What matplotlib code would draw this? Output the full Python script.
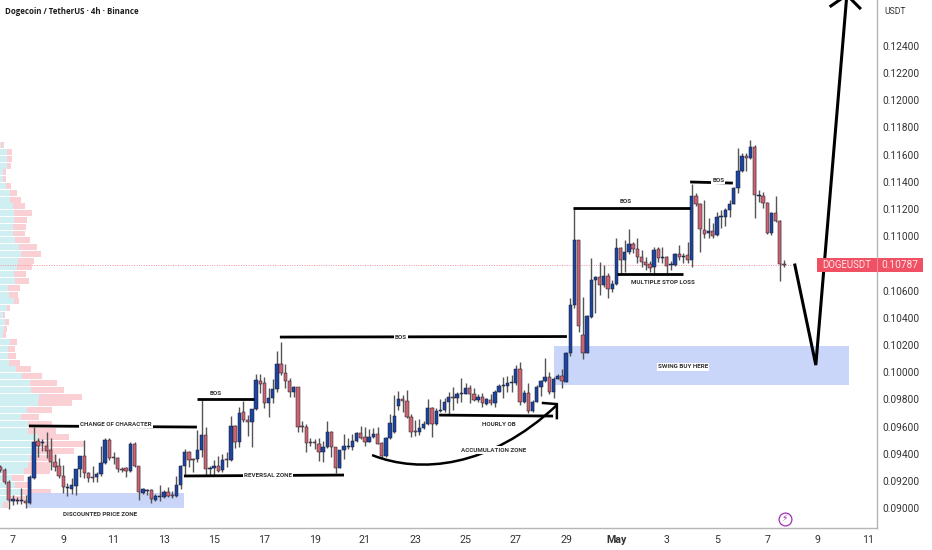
import matplotlib
matplotlib.use("Agg")
import matplotlib.pyplot as plt
from matplotlib.patches import Rectangle, PathPatch
from matplotlib.path import Path

UNIT = 1e-5  # all price lists below are in 1e-5 USDT

first_bar = -3
body_top = [
 9302,9280,9191,9066,9059,9059,9052,9228,9486,9493,
 9486,9456,9427,9339,9309,9236,9155,9169,9287,9383,
 9383,9258,9228,9250,9331,9500,9500,9375,9368,9287,
 9294,9471,9471,9309,9140,9133,9133,9088,9088,9118,
 9118,9096,9169,9309,9412,9412,9361,9427,9537,9537,
 9294,9309,9309,9353,9361,9603,9603,9699,9706,9648,
 9729,9942,9935,9920,9809,9876,10060,10060,9993,9935,
 9890,9890,9603,9596,9486,9486,9471,9449,9559,9559,
 9449,9427,9456,9456,9493,9552,9552,9523,9523,9545,
 9545,9478,9515,9626,9677,9802,9802,9787,9670,9567,
 9589,9618,9736,9736,9714,9721,9780,9817,9817,9839,
 9846,9883,9883,9839,9817,9817,9802,9795,9854,9898,
 9905,9920,9927,10023,10023,9846,9846,9780,9890,9935,
 9964,9964,9949,9971,9971,10141,10494,10972,10972,10273,
 10413,10678,10700,10700,10707,10707,10648,10913,10913,10884,
 10943,10943,10906,10847,10810,10796,10898,10906,10847,10847,
 10796,10869,10869,10854,10862,11296,11296,11237,11046,11038,
 11038,11141,11149,11193,11237,11355,11480,11590,11590,11656,
 11656,11303,11296,11244,11171,11171,11112,10796]
body_bot = [
 9280,9191,9059,9052,9052,9052,9037,9037,9221,9456,
 9478,9420,9339,9302,9236,9155,9147,9140,9162,9287,
 9258,9221,9221,9228,9250,9331,9368,9368,9287,9280,
 9272,9272,9309,9118,9111,9125,9066,9059,9081,9081,
 9088,9088,9088,9169,9309,9353,9353,9361,9427,9287,
 9287,9294,9272,9280,9353,9353,9486,9486,9648,9633,
 9633,9729,9912,9773,9773,9809,9876,9993,9935,9854,
 9854,9596,9596,9478,9478,9478,9412,9412,9449,9449,
 9294,9294,9427,9449,9449,9493,9515,9486,9486,9523,
 9471,9383,9383,9515,9559,9751,9787,9670,9559,9559,
 9559,9589,9618,9618,9618,9714,9721,9780,9809,9809,
 9839,9839,9839,9795,9795,9773,9765,9773,9773,9854,
 9898,9898,9920,9920,9780,9780,9714,9714,9780,9890,
 9935,9854,9854,9949,9935,9927,10141,10494,10339,10141,
 10141,10405,10678,10641,10641,10611,10611,10648,10825,10825,
 10884,10906,10847,10810,10788,10766,10773,10840,10840,10781,
 10788,10788,10847,10847,10825,10825,11237,11053,11016,11024,
 11002,11009,11141,11141,11193,11237,11355,11480,11575,11575,
 11303,11296,11244,11024,11024,11112,10796,10787]
highs = [
 9316,9294,9206,9096,9081,9147,9096,9243,9596,9515,
 9508,9559,9515,9397,9368,9316,9184,9221,9287,9383,
 9500,9265,9309,9265,9456,9515,9515,9412,9375,9302,
 9302,9486,9486,9309,9147,9140,9140,9103,9169,9133,
 9155,9125,9236,9316,9434,9420,9368,9574,9795,9596,
 9309,9353,9383,9397,9412,9677,9611,9743,9787,9685,
 9729,9986,9986,9964,9883,9949,10155,10222,10060,9957,
 9898,9890,9640,9618,9515,9508,9515,9493,9640,9567,
 9449,9427,9545,9515,9545,9559,9603,9596,9581,9589,
 9596,9486,9523,9692,9831,9861,9831,9868,9692,9648,
 9655,9640,9802,9743,9736,9802,9809,9854,9890,9854,
 9957,9920,9905,9883,9839,9846,9809,9839,9868,9912,
 9964,9971,9979,10052,10074,9868,9920,9795,9905,9942,
 10104,10001,9964,9986,10023,10148,10545,11208,10972,10553,
 10420,10840,10707,10810,10788,10729,10678,10987,10921,10972,
 11053,10957,10987,10898,10847,10818,10921,10921,10921,10854,
 10818,10876,10935,10876,10957,11384,11318,11244,11266,11134,
 11097,11178,11193,11208,11266,11362,11649,11612,11612,11708,
 11671,11340,11325,11252,11178,11296,11119,10825]
lows = [
 9265,9177,8993,9022,9029,9029,9000,9030,9213,9375,
 9420,9368,9280,9272,9221,9111,9089,9103,9096,9228,
 9221,9191,9191,9191,9236,9324,9353,9324,9265,9265,
 9228,9265,9302,9059,9103,9096,9037,9052,9052,9074,
 9081,9074,9081,9140,9243,9302,9265,9339,9375,9243,
 9243,9243,9265,9265,9302,9346,9442,9449,9633,9530,
 9449,9721,9846,9736,9670,9773,9854,9979,9883,9817,
 9817,9559,9559,9412,9456,9434,9346,9339,9442,9375,
 9258,9294,9361,9434,9427,9486,9508,9456,9486,9515,
 9471,9375,9375,9508,9552,9721,9706,9662,9523,9530,
 9537,9581,9611,9523,9611,9706,9706,9692,9721,9773,
 9780,9839,9773,9787,9780,9743,9758,9758,9743,9854,
 9809,9854,9854,9905,9758,9773,9699,9706,9780,9824,
 9927,9839,9809,9949,9883,9927,10118,10472,10295,10096,
 10141,10398,10435,10567,10626,10545,10589,10641,10729,10737,
 10869,10876,10803,10773,10751,10737,10722,10810,10803,10729,
 10751,10781,10825,10803,10803,10773,11222,10884,10987,10987,
 10987,11002,11060,11075,11141,11237,11318,11472,11480,11568,
 11134,11252,11208,11016,11009,11104,10670,10773]
direction = (
 "ddduuuduud" "uddddduuuu" "ddduuudddd" "dudduuduuu" "dduuudduud"
 "uududududd" "uudduuuddd" "udddddduud" "duuuuudduu" "dduuuudddd"
 "uuuduuuudu" "uuddududuu" "uuuududuuu" "uduuduuudd" "uuududuudu"
 "udddddudud" "uudududddu" "duuuuuuudu" "dudduddd"
)

vp_levels = [11670,11620,11570,11520,11470,11420,11370,11320,11270,11220,
             11170,11120,11070,11020,10970,10920,10870,10820,10770,10720,
             10670,10620,10570,10520,10470,10420,10370,10320,10270,10220,
             10170,10120,10070,10020,9970,9920,9870,9820,9770,9720,
             9670,9620,9570,9520,9470,9420,9370,9320,9270,9220,
             9170,9120,9070,9020]
vp_up = [1,7,7,7,3,3,6,10,10,13,14,14,13,13,15,19,21,18,17,14,15,8,9,14,7,3,5,4,3,10,
         8,8,9,16,22,30,31,39,38,27,21,28,28,38,33,33,30,28,24,12,15,22,8,3]
vp_down = [3,5,5,4,3,3,5,7,11,12,18,13,13,12,15,18,20,16,15,12,14,12,9,5,3,2,4,3,3,7,
           7,8,11,15,20,27,33,43,34,25,18,24,28,31,52,41,27,22,26,12,13,29,17,5]

price_ticks = [9000,9200,9400,9600,9800,10000,10200,10400,10600,11000,
               11200,11400,11600,11800,12000,12200,12400]
time_ticks = [0,12,24,36,48,60,72,84,96,108,120,132,144,156,168,180,192,204]
time_labels = ["7","9","11","13","15","17","19","21","23","25","27","29","May","3","5","7","9","11"]
last_price = 10787

BLUE, RED = "#1d459e", "#cb6470"
W, H = 932, 550
plt.rcParams["font.family"] = ["Roboto", "DejaVu Sans"]
fig = plt.figure(figsize=(W/100, H/100), dpi=100, facecolor="white")
rect = [0, (H-527.5)/H, 877/W, 527.5/H]

vp = fig.add_axes(rect, zorder=0)
vp.set_xlim(0, 877); vp.set_ylim(8857*UNIT, 12738*UNIT); vp.axis("off")
lev = [v*UNIT for v in vp_levels]
vp.barh(lev, vp_up, height=0.00044, color="#cfeff3", linewidth=0)
vp.barh(lev, vp_down, left=vp_up, height=0.00044, color="#fbd0d5", linewidth=0)

ax = fig.add_axes(rect, zorder=1)
ax.patch.set_visible(False)
ax.set_xlim(-3.1, 206.2); ax.set_ylim(8857*UNIT, 12738*UNIT)

def zone(x0, x1, y0, y1):
    ax.add_patch(Rectangle((x0, y0*UNIT), x1-x0, (y1-y0)*UNIT, fc="#c6d4fa", ec="none", alpha=0.95, zorder=1))
zone(3.3, 40.8, 9000, 9110)
zone(129.1, 199.5, 9905, 10192)

ax.plot([-3.1, 186], [last_price*UNIT]*2, color="#f4919f", lw=0.7, ls=(0, (1, 1.5)), zorder=1.5)

xs = list(range(first_bar, first_bar+len(body_top)))
ax.vlines(xs, [v*UNIT for v in lows], [v*UNIT for v in highs], color="#555555", lw=1.0, zorder=2)
cols = [BLUE if d == "u" else RED for d in direction]
ax.bar(xs, [(t-b)*UNIT for t, b in zip(body_top, body_bot)], bottom=[b*UNIT for b in body_bot],
       width=0.8, color=cols, edgecolor="#1a1a2a", linewidth=0.35, zorder=3)

def seg(x0, y0, x1, y1, lw=2.0):
    ax.plot([x0, x1], [y0*UNIT, y1*UNIT], color="black", lw=lw, solid_capstyle="butt", zorder=4)

def label(x, y, s, bg=False):
    ax.text(x, y*UNIT, s, ha="center", va="center", fontsize=4.5, fontweight="bold", color="#333333", zorder=5,
            bbox=dict(fc="white", ec="none", pad=0.8) if bg else None)

seg(3.8, 9604, 43.9, 9596); label(24.6, 9618, "CHANGE OF CHARACTER", True)
seg(43.9, 9802, 57.5, 9802); label(48.4, 9846, "BOS")
seg(40.8, 9236, 79, 9243); label(60.9, 9243, "REVERSAL ZONE", True)
seg(63.7, 10258, 132.2, 10262); label(92.6, 10258, "BOS", True)
seg(101.7, 9684, 128.9, 9677); label(116, 9618, "HOURLY OB")
seg(144.2, 10722, 159.9, 10722); label(155.1, 10656, "MULTIPLE STOP LOSS")
seg(133.7, 11208, 161.6, 11208); label(146.3, 11252, "BOS")
seg(161.6, 11399, 171.8, 11391); label(168.3, 11413, "BOS", True)
label(20.8, 8949, "DISCOUNTED PRICE ZONE")
label(159.9, 10038, "SWING BUY HERE", True)

curve = Path([(85.7, 9390*UNIT), (97.1, 9250*UNIT), (113.8, 9294*UNIT), (129.8, 9758*UNIT)],
             [Path.MOVETO, Path.CURVE4, Path.CURVE4, Path.CURVE4])
ax.add_patch(PathPatch(curve, fc="none", ec="black", lw=1.8, zorder=4))
ax.plot([126.5, 129.8, 129.8], [9773*UNIT, 9765*UNIT, 9662*UNIT], color="black", lw=1.8, zorder=4, solid_joinstyle="miter")
label(114.6, 9427, "ACCUMULATION ZONE", True)

ax.plot([186.6, 191.6, 199], [10788*UNIT, 10052*UNIT, 12775*UNIT], color="black", lw=2.2, zorder=4, solid_joinstyle="miter")
ax.plot([195.2, 199, 202.1], [12694*UNIT, 12775*UNIT, 12679*UNIT], color="black", lw=2.2, zorder=4)

for s in ("top", "left"):
    ax.spines[s].set_visible(False)
for s in ("right", "bottom"):
    ax.spines[s].set_color("#b4b6bb"); ax.spines[s].set_linewidth(1.0)
ax.yaxis.tick_right()
ax.set_yticks([v*UNIT for v in price_ticks])
ax.set_yticklabels([f"{v*UNIT:.5f}" for v in price_ticks], fontsize=7.3, color="#333333")
ax.tick_params(axis="y", length=0, pad=4)
ax.set_xticks(time_ticks)
ax.set_xticklabels(time_labels, fontsize=7.7, color="#333333")
ax.tick_params(axis="x", length=0, pad=5.5)
for t in ax.get_xticklabels():
    if t.get_text() == "May":
        t.set_fontweight("bold")

# marker icon
ax.scatter([184.2], [8922*UNIT], s=85, facecolor="white", edgecolor="#a02fb5", linewidth=0.9, zorder=6, clip_on=False)
ax.text(184.2, 8922*UNIT, "\u26a1", fontsize=6.5, color="#a02fb5", ha="center", va="center", family="DejaVu Sans", zorder=7)

# labels outside plot
fig.text(5/W, 1-11/H, "Dogecoin / TetherUS \u00b7 4h \u00b7 Binance", fontsize=5.7, fontweight="bold",
         color="#1c1c1c", ha="left", va="center", family="Open Sans")
fig.text(884/W, 1-12/H, "USDT", fontsize=6.2, color="#333333", ha="left", va="center")
ybox = 265
fig.add_artist(Rectangle((817/W, 1-(ybox+7)/H), 106/W, 14/H, transform=fig.transFigure, fc="#ef5064", ec="none", zorder=5))
fig.add_artist(plt.Line2D([877/W, 877/W], [1-(ybox+7)/H, 1-(ybox-7)/H], color="#f58a98", lw=0.8, zorder=6))
fig.text(847/W, 1-(ybox+0.3)/H, "DOGEUSDT", fontsize=6.9, color="#ffe6e8", ha="center", va="center", zorder=7)
fig.text(900/W, 1-(ybox+0.3)/H, f"{last_price*UNIT:.5f}", fontsize=7.3, color="#ffe6e8", ha="center", va="center", zorder=7)

n = [len(direction), len(body_top), len(body_bot), len(highs), len(lows), len(vp_up), len(vp_down), len(vp_levels)]
if len(set(n[:5])) > 1 or len(set(n[5:])) > 1:
    raise SystemExit(str(n))
fig.savefig("out.png", dpi=100)
